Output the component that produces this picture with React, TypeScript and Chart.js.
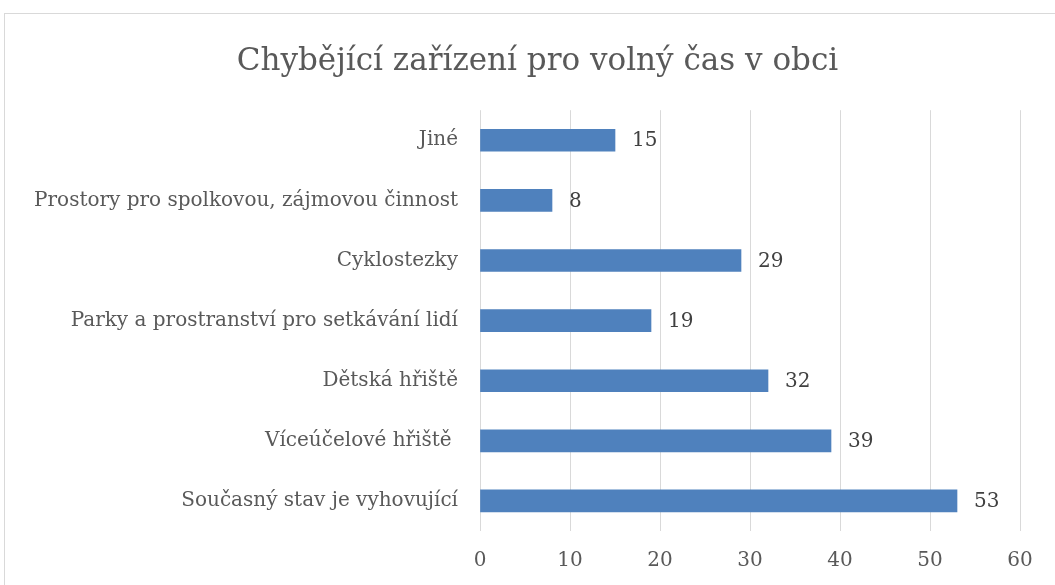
import React, { useEffect, useRef } from "react";
import { Chart, registerables } from "chart.js";

Chart.register(...registerables);

const TITLE = "Chybějící zařízení pro volný čas v obci";
const categories = [
  "Jiné",
  "Prostory pro spolkovou, zájmovou činnost",
  "Cyklostezky",
  "Parky a prostranství pro setkávání lidí",
  "Dětská hřiště",
  "Víceúčelové hřiště ",
  "Současný stav je vyhovující",
];
const values = [15, 8, 29, 19, 32, 39, 53];
const xMin = 0;
const xMax = 60;
const xStep = 10;

const FONT = "'DejaVu Serif', serif";
const TEXT = "#595959";
const GRID = "#d9d9d9";
const BAR = "#4f81bd";

const valueLabels = {
  id: "valueLabels",
  afterDatasetsDraw(chart: any) {
    const ctx = chart.ctx;
    const meta = chart.getDatasetMeta(0);
    ctx.save();
    ctx.font = `20px ${FONT}`;
    ctx.fillStyle = "#404040";
    ctx.textAlign = "left";
    ctx.textBaseline = "middle";
    meta.data.forEach((el: any, i: number) => {
      ctx.fillText(String(values[i]), el.x + 17, el.y + 1);
    });
    ctx.restore();
  },
};

// Centre the title over the whole framed chart rather than the padded box
const titleCentre = {
  id: "titleCentre",
  afterLayout(chart: any) {
    const tb = chart.titleBlock;
    if (tb) {
      tb.left = 0;
      tb.right = chart.width + 20;
    }
  },
};

export default function App() {
  const ref = useRef<HTMLCanvasElement | null>(null);
  useEffect(() => {
    if (!ref.current) return;
    const chart = new Chart(ref.current, {
      type: "bar",
      data: {
        labels: categories,
        datasets: [
          {
            data: values,
            backgroundColor: BAR,
            borderWidth: 0,
            barThickness: 22,
          },
        ],
      },
      options: {
        indexAxis: "y",
        animation: false,
        responsive: false,
        maintainAspectRatio: false,
        layout: { padding: { left: 0, right: 35, top: 0, bottom: 0 } },
        plugins: {
          legend: { display: false },
          tooltip: { enabled: false },
          title: {
            display: true,
            text: TITLE,
            color: TEXT,
            font: { family: FONT, size: 31, weight: "normal", lineHeight: 1.2 },
            padding: { top: 43, bottom: 30 },
          },
        },
        scales: {
          x: {
            min: xMin,
            max: xMax,
            ticks: {
              stepSize: xStep,
              color: TEXT,
              font: { family: FONT, size: 20 },
              padding: 18,
            },
            grid: { color: GRID, lineWidth: 1, drawTicks: false },
            border: { display: false },
            afterFit(scale: any) {
              scale.height = 54;
            },
          },
          y: {
            ticks: {
              color: TEXT,
              font: { family: FONT, size: 20 },
              padding: 14,
            },
            grid: { display: false },
            border: { display: false },
            afterFit(scale: any) {
              scale.width = 480;
            },
          },
        },
      },
      plugins: [valueLabels, titleCentre],
    });
    return () => chart.destroy();
  }, []);
  return (
    <div style={{ position: "fixed", left: 0, top: 0, width: 1055, height: 585, background: "#fff", overflow: "hidden" }}>
      <div
        style={{
          position: "absolute",
          left: 4,
          top: 13,
          width: 1070,
          height: 600,
          border: "1px solid #d9d9d9",
          boxSizing: "border-box",
        }}
      />
      <canvas ref={ref} width={1055} height={585} style={{ position: "absolute", left: 0, top: 0, display: "block" }} />
    </div>
  );
}
